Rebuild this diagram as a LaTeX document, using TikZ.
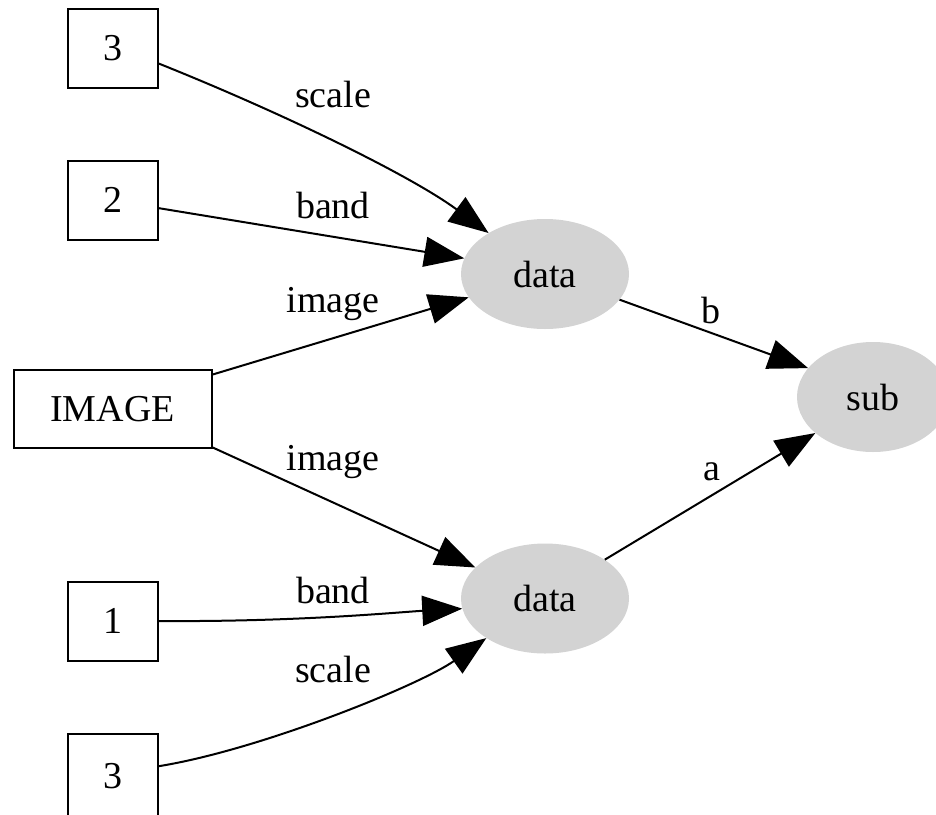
\documentclass[tikz,border=0pt]{standalone}
\usepackage{fontspec}
\setmainfont{Liberation Serif}
\usetikzlibrary{arrows.meta,shapes.geometric}
\definecolor{nodegray}{RGB}{211,211,211}
\tikzset{
  box/.style={draw=black, line width=2pt, rectangle, inner sep=0pt, minimum width=90pt, minimum height=79pt, font=\fontsize{38}{40}\selectfont},
  wide/.style={box, minimum width=198pt, minimum height=78pt},
  oval/.style={ellipse, fill=nodegray, draw=none, inner sep=0pt, minimum width=168pt, minimum height=110pt, font=\fontsize{38}{40}\selectfont},
  edge/.style={line width=2pt, -{Triangle[length=40pt,width=30pt]}},
  lab/.style={anchor=base, inner sep=0pt, font=\fontsize{38}{40}\selectfont}
}
\begin{document}
\begin{tikzpicture}[x=1pt,y=-1pt]
\clip (0,0) rectangle (936,814);
\useasboundingbox (0,0) rectangle (936,814);
\fill[white] (0,0) rectangle (936,814);
% nodes
\node[box] (n3a) at (112.5,48.5) {3};
\node[box] (n2) at (112.5,200) {2};
\node[wide] (img) at (112.5,409) {IMAGE};
\node[box] (n1) at (112.5,621) {1};
\node[box, minimum height=84pt] (n3b) at (112.5,776) {3};
\node[oval] (d1) at (545,274) {data};
\node[oval] (d2) at (545,598.5) {data};
\node[oval, minimum width=152pt] (sub) at (873,397) {sub};
% edges
\draw[edge] (n3a.-18) .. controls (280,112) and (410,175) .. (d1.144);
\draw[edge] (n2.-10) -- (d1.169);
\draw[edge] (img.19) -- (d1.197);
\draw[edge] (img.-21) -- (d2.156);
\draw[edge] (n1.east) .. controls (300,622) and (400,612) .. (d2.187);
\draw[edge] (n3b.12) .. controls (260,750) and (420,685) .. (d2.214);
\draw[edge] (d1.341) -- (sub.156);
\draw[edge] (d2.33) -- (sub.212);
% labels
\node[lab] (l1) at (333,107) {scale};
\node[lab] (l2) at (333,218) {band};
\node[lab] (l3) at (333,312) {image};
\node[lab] (l4) at (333,470) {image};
\node[lab] (l5) at (333,603) {band};
\node[lab] (l6) at (333,682) {scale};
\node[lab] (l7) at (711,323) {b};
\node[lab] (l8) at (712,480) {a};
\end{tikzpicture}
\end{document}
